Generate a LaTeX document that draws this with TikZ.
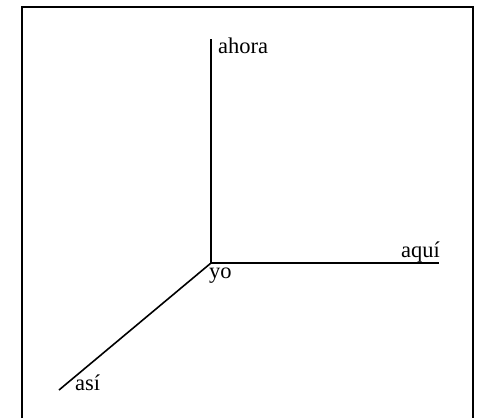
\documentclass[tikz,border=0pt]{standalone}
\usepackage{fontspec}
\setmainfont{Liberation Serif}
\begin{document}
\begin{tikzpicture}[x=1pt,y=-1pt,
  axis/.style={line width=1.6pt, line cap=butt},
  frameline/.style={line width=1.6pt},
  lbl/.style={inner sep=0pt, font=\fontsize{22.5}{25}\selectfont}]
\useasboundingbox (0,0) rectangle (478,418);
\draw[frameline] (22,418) -- (22,7) -- (473,7) -- (473,418);
\coordinate (o) at (211,263);
\coordinate (up) at (211,39);
\coordinate (right) at (439,263);
\coordinate (down) at (59,390);
\draw[axis] (up) -- (o) -- (right);
\draw[axis] (o) -- (down);
\node[lbl, anchor=base west] (ahora) at (218,53) {ahora};
\node[lbl, anchor=base east] (aqui) at (440,257) {aquí};
\node[lbl, anchor=base west] (yo) at (209,278) {yo};
\node[lbl, anchor=base west] (asi) at (75,390) {así};
\end{tikzpicture}
\end{document}
